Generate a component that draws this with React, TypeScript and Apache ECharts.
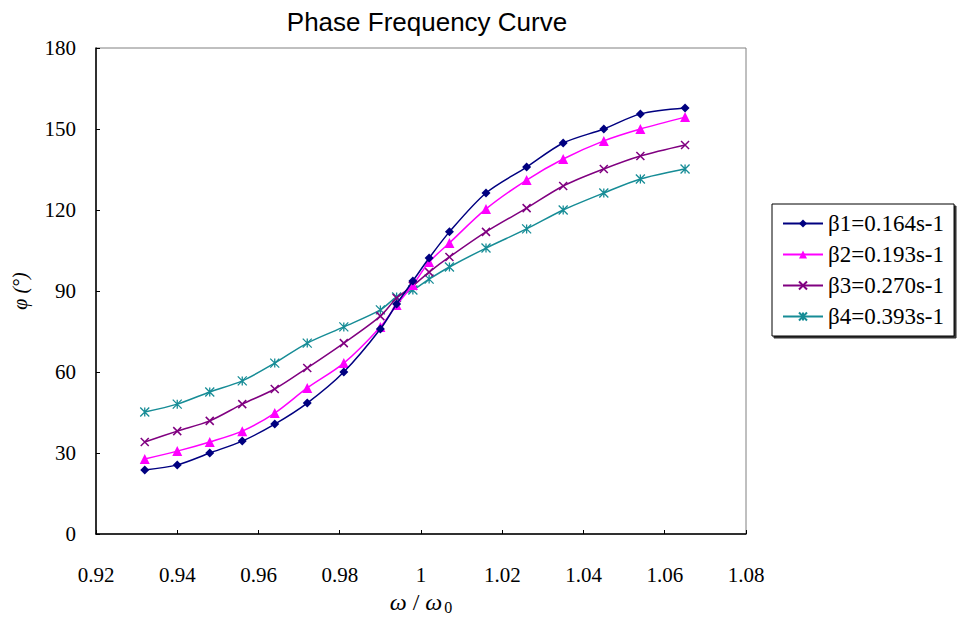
import React, { useEffect, useRef } from "react";
import * as echarts from "echarts";

const omegaRatio = [0.932, 0.94, 0.948, 0.956, 0.964, 0.972, 0.981, 0.99, 0.994, 0.998, 1.002, 1.007, 1.016, 1.026, 1.035, 1.045, 1.054, 1.065];
const beta1 = [23.7, 25.6, 30.0, 34.4, 40.7, 48.5, 60.0, 75.9, 85.2, 93.7, 102.2, 111.9, 126.3, 135.9, 144.8, 150.0, 155.6, 157.8];
const beta2 = [27.8, 30.7, 34.1, 38.1, 44.8, 54.1, 63.3, 76.7, 84.8, 92.2, 100.7, 107.8, 120.4, 131.1, 138.9, 145.6, 150.0, 154.4];
const beta3 = [34.1, 38.1, 41.9, 48.1, 53.7, 61.5, 70.7, 80.7, 87.4, 91.9, 97.0, 102.6, 111.9, 120.7, 128.9, 135.2, 140.0, 144.1];
const beta4 = [45.2, 48.1, 52.6, 56.7, 63.3, 70.7, 76.7, 83.0, 87.8, 90.4, 94.4, 98.9, 105.9, 113.0, 120.0, 126.3, 131.5, 135.2];
const seriesNames = ["β1=0.164s-1", "β2=0.193s-1", "β3=0.270s-1", "β4=0.393s-1"];

const serif = "'Liberation Serif', 'Times New Roman', serif";
const sans = "'Liberation Sans', Arial, sans-serif";

export default function App() {
  const ref = useRef<HTMLDivElement>(null);
  useEffect(() => {
    if (!ref.current) return;
    const chart = echarts.init(ref.current, null, { renderer: "svg" });
    const mk = (vals: number[]) => vals.map((v, i) => [omegaRatio[i], v]);
    const defs = [
      { data: beta1, color: "#000080", symbol: "diamond", size: 9, fill: "#000080", bw: 0 },
      { data: beta2, color: "#FF00FF", symbol: "triangle", size: 10, fill: "#FF00FF", bw: 0 },
      { data: beta3, color: "#800080", symbol: "path://M0 0L10 10M10 0L0 10", size: 8, fill: "#800080", bw: 1.5 },
      { data: beta4, color: "#168C96", symbol: "path://M0 0L10 10M10 0L0 10M5 0L5 10", size: 9, fill: "#168C96", bw: 1.3 },
    ];
    chart.setOption({
      animation: false,
      backgroundColor: "#ffffff",
      title: {
        text: "Phase Frequency Curve",
        left: 422,
        textAlign: "center",
        top: 4,
        textStyle: { fontFamily: sans, fontSize: 26, fontWeight: "normal", color: "#000" },
      },
      grid: {
        left: 96,
        top: 48,
        width: 650,
        height: 486,
        show: true,
        borderColor: "#808080",
        borderWidth: 1,
        containLabel: false,
      },
      legend: {
        orient: "vertical",
        left: 772,
        top: 204,
        padding: [8, 10, 8, 10],
        itemGap: 8,
        itemWidth: 40,
        itemHeight: 10,
        backgroundColor: "#fff",
        borderColor: "#000",
        borderWidth: 1,
        shadowColor: "rgba(0,0,0,0.8)",
        shadowOffsetX: 2,
        shadowOffsetY: 2,
        shadowBlur: 0,
        textStyle: { fontFamily: serif, fontSize: 23, color: "#000" },
        data: seriesNames,
      },
      xAxis: {
        type: "value",
        min: 0.92,
        max: 1.08,
        interval: 0.02,
        name: "{i|ω} / {i|ω}{s|0}",
        nameLocation: "middle",
        nameGap: 52,
        nameTextStyle: {
          rich: {
            i: { fontFamily: serif, fontStyle: "italic", fontSize: 24, color: "#000" },
            s: { fontFamily: serif, fontSize: 16, color: "#000", verticalAlign: "bottom", padding: [12, 0, 0, 2] },
          },
          fontFamily: serif,
          fontSize: 24,
          color: "#000",
        },
        axisLine: { show: true, onZero: false, lineStyle: { color: "#000", width: 1.5 } },
        axisTick: { show: true, inside: true, length: 4, lineStyle: { color: "#000" } },
        axisLabel: {
          margin: 30,
          fontFamily: serif,
          fontSize: 21,
          color: "#000",
          formatter: (v: number) => String(parseFloat(v.toFixed(2))),
        },
        splitLine: { show: false },
      },
      yAxis: {
        type: "value",
        min: 0,
        max: 180,
        interval: 30,
        name: "φ (°)",
        nameLocation: "middle",
        nameRotate: 90,
        nameGap: 66,
        nameTextStyle: { fontFamily: serif, fontStyle: "italic", fontSize: 20, color: "#000" },
        axisLine: { show: true, onZero: false, lineStyle: { color: "#000", width: 1.5 } },
        axisTick: { show: true, inside: true, length: 4, lineStyle: { color: "#000" } },
        axisLabel: { margin: 20, fontFamily: serif, fontSize: 21, color: "#000" },
        splitLine: { show: false },
      },
      series: defs.map((d, i) => ({
        name: seriesNames[i],
        type: "line",
        data: mk(d.data),
        smooth: 0.3,
        symbol: d.symbol,
        symbolSize: d.size,
        showSymbol: true,
        lineStyle: { color: d.color, width: 1.5 },
        itemStyle: { color: d.fill, borderColor: d.color, borderWidth: d.bw },
        emphasis: { disabled: true },
        z: 10 - i,
      })),
    });
    return () => chart.dispose();
  }, []);
  return <div ref={ref} style={{ position: "fixed", left: 0, top: 0, width: 969, height: 624 }} />;
}
